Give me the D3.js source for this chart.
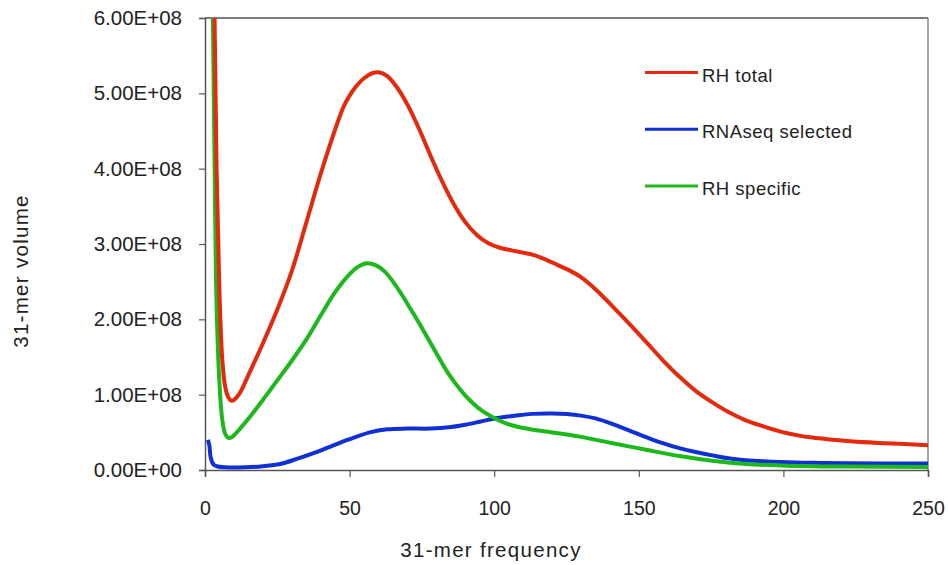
<!DOCTYPE html>
<html>
<head>
<meta charset="utf-8">
<script src="https://d3js.org/d3.v7.min.js"></script>
<style>
  body { margin: 0; background: #fff; }
  svg { font-family: "Liberation Sans", Arial, sans-serif; }
</style>
</head>
<body>
<svg id="chart" width="948" height="565"></svg>
<script>
// values in units of 1E+08
const rhTotalX = [2, 3, 4, 5, 6, 7, 8, 9, 10, 12, 15, 20, 25, 30, 35, 40, 45, 48, 50, 52, 55, 58, 60, 63, 66, 70, 74, 78, 82, 86, 90, 94, 98, 102, 106, 110, 114, 118, 122, 126, 130, 135, 141, 147, 153, 158, 164, 170, 176, 181, 187, 193, 199, 205, 210, 216, 222, 233, 242, 250];
const rhTotalY = [9.5, 7.0, 4.0, 2.35, 1.45, 1.1, 0.97, 0.92, 0.93, 1.02, 1.26, 1.68, 2.13, 2.64, 3.28, 3.93, 4.52, 4.83, 4.97, 5.08, 5.2, 5.27, 5.28, 5.23, 5.1, 4.85, 4.53, 4.17, 3.83, 3.53, 3.29, 3.12, 3.01, 2.95, 2.915, 2.885, 2.85, 2.79, 2.72, 2.65, 2.56, 2.4, 2.17, 1.93, 1.68, 1.47, 1.24, 1.04, 0.885, 0.77, 0.66, 0.58, 0.51, 0.46, 0.43, 0.405, 0.385, 0.36, 0.345, 0.33];

const rnaseqX = [1, 1.5, 2, 3, 4, 7, 14, 20, 26, 32, 38, 44, 50, 57, 63, 70, 78, 85, 90, 95, 101, 107, 113, 120, 125, 130, 135, 141, 147, 153, 158, 164, 170, 176, 181, 187, 193, 199, 210, 222, 250];
const rnaseqY = [0.40, 0.33, 0.16, 0.07, 0.05, 0.035, 0.035, 0.05, 0.08, 0.15, 0.23, 0.32, 0.41, 0.5, 0.54, 0.55, 0.55, 0.57, 0.6, 0.64, 0.69, 0.72, 0.745, 0.75, 0.743, 0.722, 0.685, 0.61, 0.52, 0.43, 0.36, 0.29, 0.235, 0.19, 0.155, 0.13, 0.115, 0.105, 0.095, 0.09, 0.085];

const rhSpecX = [2, 2.5, 3, 3.5, 4, 5, 6, 7, 8, 9, 10, 15, 20, 25, 30, 35, 40, 45, 50, 53, 56, 59, 62, 65, 68, 72, 76, 80, 84, 88, 92, 96, 100, 104, 108, 112, 118, 124, 130, 141, 153, 164, 176, 187, 199, 210, 222, 250];
const rhSpecY = [8.0, 6.8, 5.1, 3.45, 2.2, 1.15, 0.66, 0.48, 0.43, 0.43, 0.46, 0.68, 0.93, 1.19, 1.45, 1.73, 2.05, 2.36, 2.6, 2.7, 2.745, 2.72, 2.64, 2.5, 2.33, 2.08, 1.82, 1.55, 1.29, 1.08, 0.91, 0.78, 0.69, 0.62, 0.575, 0.545, 0.51, 0.478, 0.44, 0.355, 0.265, 0.185, 0.12, 0.08, 0.06, 0.05, 0.045, 0.04];

const xTicks = [0, 50, 100, 150, 200, 250];
const yTicks = [0, 1, 2, 3, 4, 5, 6];
const yTickLabels = ["0.00E+00", "1.00E+08", "2.00E+08", "3.00E+08", "4.00E+08", "5.00E+08", "6.00E+08"];

const seriesNames = ["RH total", "RNAseq selected", "RH specific"];
const seriesColors = ["#e5290c", "#1030d4", "#1cb81c"];

const series = [
  { name: seriesNames[0], color: seriesColors[0], pts: rhTotalX.map((x, i) => [x, rhTotalY[i]]) },
  { name: seriesNames[1], color: seriesColors[1], pts: rnaseqX.map((x, i) => [x, rnaseqY[i]]) },
  { name: seriesNames[2], color: seriesColors[2], pts: rhSpecX.map((x, i) => [x, rhSpecY[i]]) }
];

const margin = { left: 205, right: 20, top: 18, bottom: 95 };
const width = 948, height = 565;
const svg = d3.select("#chart");

const x = d3.scaleLinear().domain([0, 250]).range([margin.left, width - margin.right]);
const y = d3.scaleLinear().domain([0, 6]).range([height - margin.bottom, margin.top]);

svg.append("defs").append("clipPath").attr("id", "plotclip")
  .append("rect")
  .attr("x", x(0)).attr("y", y(6))
  .attr("width", x(250) - x(0)).attr("height", y(0) - y(6));

// frame top and right
svg.append("line")
  .attr("x1", x(0)).attr("x2", x(250)).attr("y1", y(6)).attr("y2", y(6))
  .attr("stroke", "#555").attr("stroke-width", 1.5);
svg.append("line")
  .attr("x1", x(250)).attr("x2", x(250)).attr("y1", y(6)).attr("y2", y(0))
  .attr("stroke", "#888").attr("stroke-width", 1.5);

const line = d3.line()
  .x(d => x(d[0]))
  .y(d => y(d[1]))
  .curve(d3.curveCatmullRom.alpha(0.5));

// blue first, then green, red on top
const g = svg.append("g").attr("clip-path", "url(#plotclip)");
[series[1], series[2], series[0]].forEach(s => {
  g.append("path")
    .datum(s.pts)
    .attr("fill", "none")
    .attr("stroke", s.color)
    .attr("stroke-width", 4)
    .attr("stroke-linejoin", "round")
    .attr("d", line);
});

// axes
const xAxis = svg.append("g")
  .attr("transform", `translate(0,${y(0)})`)
  .call(d3.axisBottom(x).tickValues(xTicks).tickSize(7).tickPadding(24));
const yAxis = svg.append("g")
  .attr("transform", `translate(${x(0)},0)`)
  .call(d3.axisLeft(y).tickValues(yTicks).tickFormat((d, i) => yTickLabels[i]).tickSize(6).tickPadding(17));

[xAxis, yAxis].forEach(a => {
  a.select(".domain").attr("stroke", "#555").attr("stroke-width", 1.5);
  a.selectAll(".tick line").attr("stroke", "#555").attr("stroke-width", 1.2);
  a.selectAll(".tick text")
    .attr("fill", "#222")
    .style("font-family", "'Liberation Sans', Arial, sans-serif");
});
xAxis.selectAll(".tick text").style("font-size", "19.5px");
yAxis.selectAll(".tick text").style("font-size", "20.5px");

// axis titles
svg.append("text")
  .attr("x", 491)
  .attr("y", 557)
  .attr("text-anchor", "middle")
  .attr("fill", "#222")
  .style("font-size", "20.5px")
  .style("letter-spacing", "1.3px")
  .text("31-mer frequency");

svg.append("text")
  .attr("transform", `translate(28,271) rotate(-90)`)
  .attr("text-anchor", "middle")
  .attr("fill", "#222")
  .style("font-size", "20.5px")
  .style("letter-spacing", "1.3px")
  .text("31-mer volume");

// legend
const legend = svg.append("g").attr("transform", "translate(645,72.5)");
series.forEach((s, i) => {
  const row = legend.append("g").attr("transform", `translate(0,${i * 56.7})`);
  row.append("line")
    .attr("x1", 0).attr("x2", 53).attr("y1", 0).attr("y2", 0)
    .attr("stroke", s.color).attr("stroke-width", 3);
  row.append("text")
    .attr("x", 57).attr("y", 9)
    .attr("fill", "#222")
    .style("font-size", "18.5px")
    .style("letter-spacing", "0.5px")
    .text(s.name);
});
</script>
</body>
</html>
